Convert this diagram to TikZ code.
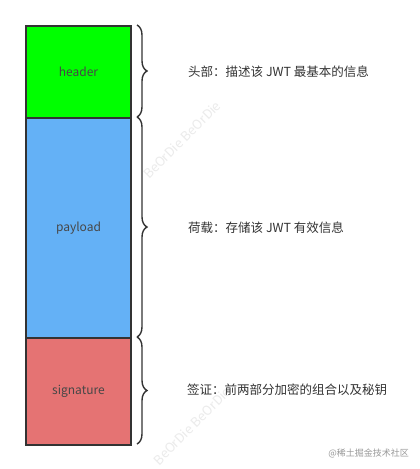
\documentclass[tikz,border=0pt]{standalone}
\usepackage{fontspec}
\setmainfont{Noto Sans CJK SC}
\usetikzlibrary{decorations.pathreplacing}
\definecolor{hdr}{HTML}{00FF00}
\definecolor{pay}{HTML}{64B1F6}
\definecolor{sig}{HTML}{E57373}
\definecolor{edge}{HTML}{333333}
\definecolor{txt}{HTML}{333333}
\tikzset{
  part/.style={draw=edge, line width=2pt, minimum width=105pt, inner sep=0pt, font=\fontsize{12}{14}\selectfont, text=txt!90},
  brc/.style={draw=edge, line width=1.4pt, decorate, decoration={brace, amplitude=10pt, raise=0pt}},
  lbl/.style={anchor=west, text=txt, font=\fontsize{12.5}{15}\selectfont, inner sep=0pt},
  wm/.style={text=black!8, rotate=45, font=\fontsize{13}{15}\selectfont}
}
\begin{document}
\begin{tikzpicture}[x=1pt,y=-1pt]
\useasboundingbox (0,0) rectangle (420,469);
\fill[white] (0,0) rectangle (420,469);
\node[wm] (w1) at (182,140) {BeOrDie BeOrDie};
\node[wm] (w2) at (192,426) {BeOrDie BeOrDie};
\node[part, fill=hdr, minimum height=92pt, anchor=north west] (h) at (25,25) {header};
\node[part, fill=pay, minimum height=220pt, anchor=north west] (p) at (25,117) {payload};
\node[part, fill=sig, minimum height=107pt, anchor=north west] (s) at (25,337) {signature};
\coordinate (b1t) at (137,25);
\coordinate (b1b) at (137,117);
\coordinate (b2t) at (137,117);
\coordinate (b2b) at (137,337);
\coordinate (b3t) at (137,337);
\coordinate (b3b) at (137,444);
\draw[brc] (b1t) -- (b1b);
\draw[brc] (b2t) -- (b2b);
\draw[brc] (b3t) -- (b3b);
\node[lbl] (l1) at (188,72) {头部：描述该 JWT 最基本的信息};
\node[lbl] (l2) at (188,228) {荷载：存储该 JWT 有效信息};
\node[lbl] (l3) at (187,390) {签证：前两部分加密的组合以及秘钥};
\node[anchor=east, text=black!40, font=\fontsize{9}{11}\selectfont, inner sep=0pt] (wm3) at (409,453) {@稀土掘金技术社区};
\end{tikzpicture}
\end{document}
